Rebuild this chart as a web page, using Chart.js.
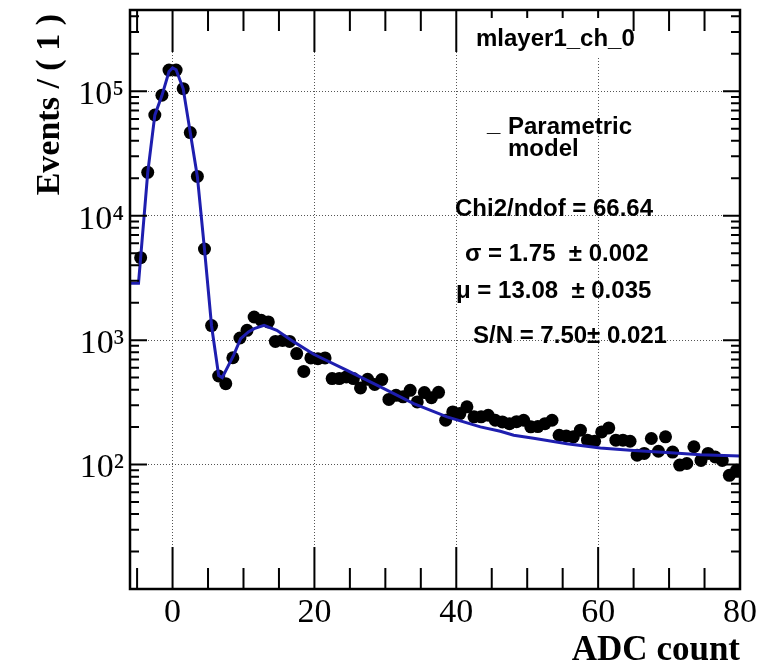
<!DOCTYPE html>
<html>
<head>
<meta charset="utf-8">
<script src="https://cdn.jsdelivr.net/npm/chart.js@4.4.0/dist/chart.umd.min.js"></script>
<style>
  html, body { margin: 0; padding: 0; background: #ffffff; }
  canvas { display: block; }
</style>
</head>
<body>
<canvas id="c" width="771" height="663"></canvas>
<script>
// ADC spectrum of channel 0, layer 1: one entry per ADC bin (bin width 1)
const binCenters = [
  -4.5, -3.5, -2.5, -1.5, -0.5, 0.5, 1.5, 2.5, 3.5, 4.5,
  5.5, 6.5, 7.5, 8.5, 9.5, 10.5, 11.5, 12.5, 13.5, 14.5,
  15.5, 16.5, 17.5, 18.5, 19.5, 20.5, 21.5, 22.5, 23.5, 24.5,
  25.5, 26.5, 27.5, 28.5, 29.5, 30.5, 31.5, 32.5, 33.5, 34.5,
  35.5, 36.5, 37.5, 38.5, 39.5, 40.5, 41.5, 42.5, 43.5, 44.5,
  45.5, 46.5, 47.5, 48.5, 49.5, 50.5, 51.5, 52.5, 53.5, 54.5,
  55.5, 56.5, 57.5, 58.5, 59.5, 60.5, 61.5, 62.5, 63.5, 64.5,
  65.5, 66.5, 67.5, 68.5, 69.5, 70.5, 71.5, 72.5, 73.5, 74.5,
  75.5, 76.5, 77.5, 78.5, 79.5
];
const events = [
  4600, 22300, 64500, 92900, 148000, 148000, 105000, 46600, 20700, 5400,
  1310, 515, 447, 722, 1040, 1200, 1535, 1442, 1400, 977,
  995, 977, 780, 561, 720, 710, 720, 491, 491, 506,
  491, 413, 484, 440, 482, 334, 360, 350, 395, 319,
  379, 345, 381, 227, 265, 257, 291, 242, 242, 249,
  227, 220, 213, 221, 227, 201, 202, 213, 227, 172,
  170, 167, 189, 157, 154, 183, 197, 157, 157, 154,
  119, 123, 162, 128, 167, 126, 99, 102, 139, 108,
  123, 115, 108, 82, 90
];

// Parametric model (pedestal + signal) evaluated along the ADC axis
const modelX = [
  -6, -4.8, -4.5, -3.5, -2.5, -1.5, -0.5, 0, 0.5, 1.5,
  2.5, 3.5, 4.5, 5.5, 6.5, 7, 8.6, 9.6, 10.7, 11.5,
  12.9, 14.7, 17.1, 19.9, 24.6, 29.3, 34, 38.7, 43.4, 46.2,
  48.1, 50.9, 55.6, 60.3, 65, 69.7, 74.4, 80
];
const modelY = [
  2870, 2870, 4600, 22200, 64300, 92400, 144000, 154000, 149000, 104600,
  46400, 20600, 5380, 1300, 519, 500, 755, 1028, 1165, 1236,
  1315, 1200, 968, 770, 571, 421, 309, 242, 201, 185,
  172, 163, 147, 136, 130, 125, 120, 117
];

const xTickValues = [0, 20, 40, 60, 80];
const yTickValues = [1e2, 1e3, 1e4, 1e5];
const xMinorStep = 5;

const xTitle = 'ADC count';
const yTitle = 'Events / ( 1 )';
const panelTitle = 'mlayer1_ch_0';
const legendLines = ['Parametric', 'model'];
const fitLines = [
  'Chi2/ndof = 66.64',
  '\u03c3 = 1.75  \u00b1 0.002',
  '\u03bc = 13.08  \u00b1 0.035',
  'S/N = 7.50\u00b1 0.021'
];

const SERIF = '"Liberation Serif", "Times New Roman", serif';
const SANS = '"Liberation Sans", Arial, Helvetica, sans-serif';
const MODEL_BLUE = 'rgb(30, 30, 175)';

const SUP = { '0': '\u2070', '1': '\u00b9', '2': '\u00b2', '3': '\u00b3', '4': '\u2074',
              '5': '\u2075', '6': '\u2076', '7': '\u2077', '8': '\u2078', '9': '\u2079' };
function powerLabel(v) {
  const e = Math.round(Math.log10(v));
  return '10' + String(e).split('').map(c => SUP[c]).join('');
}

// Frame, inward ticks on all four sides, title box and text annotations
const rootFrame = {
  id: 'rootFrame',
  afterDatasetsDraw(chart) {
    const { ctx, chartArea: a, scales: { x, y } } = chart;
    ctx.save();
    ctx.strokeStyle = '#000';
    ctx.lineCap = 'butt';

    // x ticks (bottom and top)
    ctx.lineWidth = 2;
    for (let v = Math.ceil(x.min / xMinorStep) * xMinorStep; v <= x.max; v += xMinorStep) {
      const px = x.getPixelForValue(v);
      const len = xTickValues.includes(v) ? 42 : 21;
      ctx.beginPath();
      ctx.moveTo(px, a.bottom); ctx.lineTo(px, a.bottom - len);
      ctx.moveTo(px, a.top); ctx.lineTo(px, a.top + len);
      ctx.stroke();
    }

    // y ticks (left and right), decades and 2..9 sub-divisions
    const lo = Math.floor(Math.log10(y.min)), hi = Math.ceil(Math.log10(y.max));
    for (let d = lo; d <= hi; d++) {
      for (let k = 1; k <= 9; k++) {
        const v = k * Math.pow(10, d);
        if (v < y.min || v > y.max) continue;
        const py = y.getPixelForValue(v);
        const len = k === 1 ? 17 : 9;
        ctx.beginPath();
        ctx.moveTo(a.left, py); ctx.lineTo(a.left + len, py);
        ctx.moveTo(a.right, py); ctx.lineTo(a.right - len, py);
        ctx.stroke();
      }
    }

    // frame
    ctx.lineWidth = 2.5;
    ctx.strokeRect(a.left, a.top, a.right - a.left, a.bottom - a.top);

    // title box
    ctx.fillStyle = '#fff';
    ctx.fillRect(a.left + 328, a.top + 8, 170, 38);

    ctx.fillStyle = '#000';
    ctx.textAlign = 'left';
    ctx.textBaseline = 'alphabetic';
    ctx.font = 'bold 24px ' + SANS;
    ctx.fillText(panelTitle, a.left + 346, a.top + 36);

    // legend entry
    ctx.fillText('_', a.left + 357, a.top + 121);
    ctx.fillText(legendLines[0], a.left + 378, a.top + 124);
    ctx.fillText(legendLines[1], a.left + 378, a.top + 146);

    // fit results
    ctx.fillText(fitLines[0], a.left + 325, a.top + 206);
    ctx.fillText(fitLines[1], a.left + 335, a.top + 251);
    ctx.fillText(fitLines[2], a.left + 326, a.top + 288);
    ctx.fillText(fitLines[3], a.left + 343, a.top + 333);

    // axis titles
    ctx.font = 'bold 35px ' + SERIF;
    ctx.textAlign = 'right';
    ctx.fillText(xTitle, a.right, 660);

    ctx.font = 'bold 34px ' + SERIF;
    ctx.translate(59, a.top + 4);
    ctx.rotate(-Math.PI / 2);
    ctx.fillText(yTitle, 0, 0);
    ctx.restore();
  }
};

new Chart(document.getElementById('c'), {
  type: 'scatter',
  data: {
    datasets: [
      {
        label: 'Parametric model',
        data: modelX.map((v, i) => ({ x: v, y: modelY[i] })),
        showLine: true,
        borderColor: MODEL_BLUE,
        borderWidth: 3,
        pointRadius: 0,
        tension: 0,
        order: 0
      },
      {
        label: 'Data',
        data: binCenters.map((v, i) => ({ x: v, y: events[i] })),
        pointRadius: 6.5,
        pointBackgroundColor: '#000',
        pointBorderWidth: 0,
        showLine: false,
        order: 1
      }
    ]
  },
  options: {
    responsive: false,
    animation: false,
    devicePixelRatio: 1,
    layout: { padding: { left: 0, top: 10, right: 31, bottom: 0 } },
    plugins: { legend: { display: false }, tooltip: { enabled: false } },
    scales: {
      x: {
        type: 'linear',
        min: -6,
        max: 80,
        afterBuildTicks: s => { s.ticks = xTickValues.map(v => ({ value: v })); },
        afterFit: s => { s.height = 74; s.paddingLeft = 0; s.paddingRight = 0; },
        ticks: {
          font: { family: SERIF, size: 34 },
          color: '#000',
          padding: 4,
          maxRotation: 0,
          autoSkip: false
        },
        grid: { color: '#555', lineWidth: 1, drawTicks: false },
        border: { display: false, dash: [1, 2] }
      },
      y: {
        type: 'logarithmic',
        min: 10,
        max: 450000,
        afterBuildTicks: s => { s.ticks = yTickValues.map(v => ({ value: v })); },
        afterFit: s => { s.width = 130; s.paddingTop = 0; s.paddingBottom = 0; },
        ticks: {
          callback: v => powerLabel(v),
          font: { family: SERIF, size: 34 },
          color: '#000',
          padding: 6,
          labelOffset: 4,
          autoSkip: false
        },
        grid: { color: '#555', lineWidth: 1, drawTicks: false },
        border: { display: false, dash: [1, 2] }
      }
    }
  },
  plugins: [rootFrame]
});
</script>
</body>
</html>
